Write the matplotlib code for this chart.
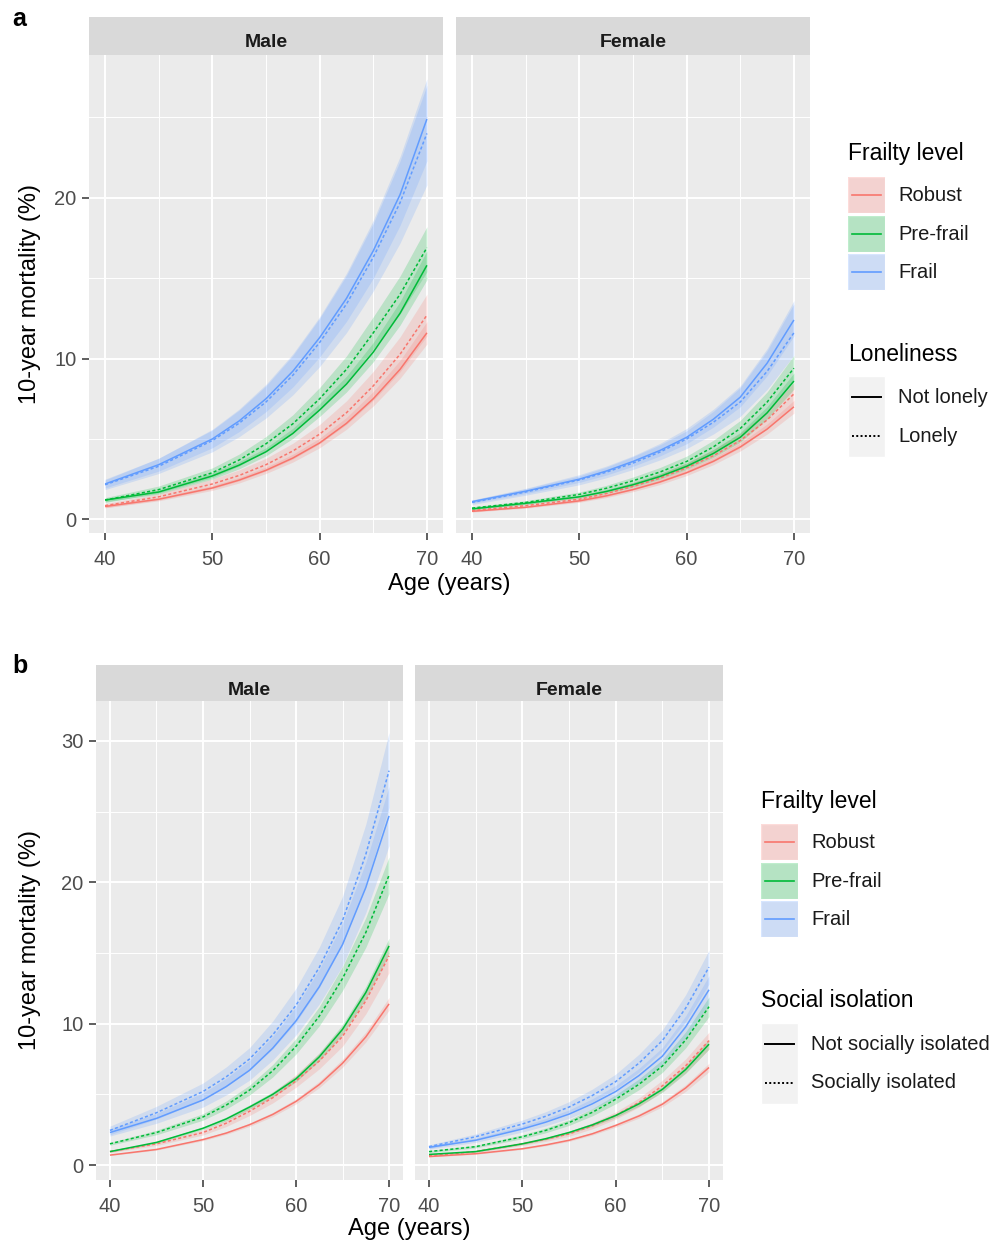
import matplotlib
matplotlib.use("Agg")
import matplotlib.pyplot as plt
from matplotlib.patches import Rectangle
from matplotlib.ticker import MultipleLocator

plt.rcParams['font.family'] = ['Liberation Sans', 'DejaVu Sans']

# ---------------- data ----------------
ages = [40, 45, 50, 52.5, 55, 57.5, 60, 62.5, 65, 67.5, 70]
frailty_levels = ["Robust", "Pre-frail", "Frail"]
sexes = ["Male", "Female"]
x_ticks = [40, 50, 60, 70]

# Panel a (loneliness): _0 = Not lonely, _1 = Lonely
a_m_rob_0 = [0.8, 1.25, 1.95, 2.44, 3.05, 3.81, 4.75, 5.97, 7.5, 9.33, 11.6]
a_m_rob_0_lo = [0.72, 1.15, 1.8, 2.26, 2.85, 3.56, 4.45, 5.60, 7.05, 8.77, 10.9]
a_m_rob_0_hi = [0.88, 1.36, 2.1, 2.61, 3.25, 4.05, 5.05, 6.34, 7.95, 9.89, 12.3]
a_m_rob_1 = [0.85, 1.4, 2.2, 2.73, 3.4, 4.25, 5.3, 6.63, 8.3, 10.27, 12.7]
a_m_rob_1_lo = [0.72, 1.2, 1.9, 2.39, 3.0, 3.75, 4.7, 5.90, 7.4, 9.18, 11.4]
a_m_rob_1_hi = [0.98, 1.6, 2.5, 3.08, 3.8, 4.73, 5.9, 7.37, 9.2, 11.35, 14.0]
a_m_pre_0 = [1.2, 1.7, 2.7, 3.37, 4.2, 5.34, 6.8, 8.41, 10.4, 12.82, 15.8]
a_m_pre_0_lo = [1.1, 1.57, 2.5, 3.14, 3.95, 5.03, 6.4, 7.92, 9.8, 12.08, 14.9]
a_m_pre_0_hi = [1.3, 1.83, 2.9, 3.59, 4.45, 5.66, 7.2, 8.90, 11.0, 13.55, 16.7]
a_m_pre_1 = [1.2, 1.85, 2.9, 3.69, 4.7, 5.94, 7.5, 9.33, 11.6, 14.0, 16.9]
a_m_pre_1_lo = [1.05, 1.63, 2.6, 3.32, 4.25, 5.38, 6.8, 8.49, 10.6, 12.78, 15.4]
a_m_pre_1_hi = [1.35, 2.07, 3.2, 4.06, 5.15, 6.50, 8.2, 10.16, 12.6, 15.14, 18.2]
a_m_fr_0 = [2.2, 3.4, 5.0, 6.12, 7.5, 9.21, 11.3, 13.74, 16.7, 20.2, 24.9]
a_m_fr_0_lo = [1.95, 3.0, 4.45, 5.46, 6.7, 8.23, 10.1, 12.31, 15.0, 18.29, 22.3]
a_m_fr_0_hi = [2.45, 3.8, 5.55, 6.79, 8.3, 10.19, 12.5, 15.17, 18.4, 22.29, 27.0]
a_m_fr_1 = [2.15, 3.3, 4.9, 5.98, 7.3, 8.96, 11.0, 13.39, 16.3, 19.7, 24.0]
a_m_fr_1_lo = [1.85, 2.85, 4.2, 5.14, 6.3, 7.74, 9.5, 11.61, 14.2, 17.19, 20.8]
a_m_fr_1_hi = [2.5, 3.8, 5.6, 6.86, 8.4, 10.29, 12.6, 15.31, 18.6, 22.57, 27.4]

a_f_rob_0 = [0.5, 0.75, 1.15, 1.46, 1.85, 2.32, 2.9, 3.61, 4.5, 5.61, 7.0]
a_f_rob_0_lo = [0.45, 0.69, 1.06, 1.35, 1.72, 2.16, 2.72, 3.40, 4.25, 5.30, 6.6]
a_f_rob_0_hi = [0.55, 0.81, 1.24, 1.57, 1.98, 2.47, 3.08, 3.82, 4.75, 5.93, 7.4]
a_f_rob_1 = [0.55, 0.85, 1.25, 1.60, 2.05, 2.56, 3.2, 3.96, 4.9, 6.18, 7.8]
a_f_rob_1_lo = [0.47, 0.74, 1.1, 1.41, 1.82, 2.29, 2.88, 3.58, 4.45, 5.62, 7.1]
a_f_rob_1_hi = [0.63, 0.96, 1.4, 1.79, 2.28, 2.83, 3.52, 4.34, 5.35, 6.74, 8.5]
a_f_pre_0 = [0.65, 1.0, 1.4, 1.73, 2.15, 2.66, 3.3, 4.10, 5.1, 6.62, 8.6]
a_f_pre_0_lo = [0.6, 0.93, 1.3, 1.61, 2.0, 2.49, 3.1, 3.86, 4.8, 6.24, 8.1]
a_f_pre_0_hi = [0.7, 1.07, 1.5, 1.86, 2.3, 2.84, 3.5, 4.35, 5.4, 7.01, 9.1]
a_f_pre_1 = [0.7, 1.05, 1.55, 1.93, 2.4, 2.94, 3.6, 4.51, 5.65, 7.29, 9.4]
a_f_pre_1_lo = [0.62, 0.94, 1.4, 1.74, 2.17, 2.66, 3.27, 4.10, 5.15, 6.66, 8.6]
a_f_pre_1_hi = [0.78, 1.16, 1.7, 2.11, 2.63, 3.22, 3.93, 4.92, 6.15, 7.92, 10.2]
a_f_fr_0 = [1.1, 1.75, 2.5, 3.0, 3.6, 4.28, 5.1, 6.23, 7.6, 9.71, 12.4]
a_f_fr_0_lo = [1.0, 1.6, 2.3, 2.75, 3.3, 3.94, 4.7, 5.74, 7.0, 8.93, 11.4]
a_f_fr_0_hi = [1.2, 1.9, 2.7, 3.24, 3.9, 4.63, 5.5, 6.72, 8.2, 10.48, 13.4]
a_f_fr_1 = [1.05, 1.7, 2.45, 2.93, 3.5, 4.18, 5.0, 6.04, 7.3, 9.20, 11.6]
a_f_fr_1_lo = [0.92, 1.5, 2.15, 2.58, 3.1, 3.69, 4.4, 5.31, 6.4, 8.08, 10.2]
a_f_fr_1_hi = [1.2, 1.93, 2.78, 3.31, 3.95, 4.72, 5.65, 6.85, 8.3, 10.62, 13.6]

# Panel b (social isolation): _0 = Not socially isolated, _1 = Socially isolated
b_m_rob_0 = [0.7, 1.1, 1.8, 2.26, 2.85, 3.58, 4.5, 5.69, 7.2, 9.06, 11.4]
b_m_rob_0_lo = [0.67, 1.05, 1.72, 2.17, 2.73, 3.43, 4.32, 5.47, 6.92, 8.70, 10.95]
b_m_rob_0_hi = [0.73, 1.15, 1.88, 2.36, 2.97, 3.73, 4.68, 5.92, 7.48, 9.41, 11.85]
b_m_rob_1 = [0.95, 1.5, 2.3, 2.96, 3.8, 4.76, 5.95, 7.36, 9.1, 11.61, 14.8]
b_m_rob_1_lo = [0.87, 1.38, 2.12, 2.72, 3.5, 4.39, 5.5, 6.80, 8.4, 10.69, 13.6]
b_m_rob_1_hi = [1.03, 1.62, 2.48, 3.19, 4.1, 5.12, 6.4, 7.92, 9.8, 12.44, 15.8]
b_m_pre_0 = [0.95, 1.6, 2.6, 3.26, 4.1, 5.0, 6.1, 7.65, 9.6, 12.20, 15.5]
b_m_pre_0_lo = [0.91, 1.54, 2.5, 3.14, 3.95, 4.82, 5.88, 7.38, 9.26, 11.77, 14.95]
b_m_pre_0_hi = [0.99, 1.66, 2.7, 3.39, 4.25, 5.18, 6.32, 7.93, 9.94, 12.63, 16.05]
b_m_pre_1 = [1.5, 2.3, 3.4, 4.24, 5.3, 6.67, 8.4, 10.53, 13.2, 16.45, 20.5]
b_m_pre_1_lo = [1.4, 2.14, 3.17, 3.96, 4.95, 6.23, 7.85, 9.85, 12.35, 15.40, 19.2]
b_m_pre_1_hi = [1.6, 2.46, 3.63, 4.53, 5.65, 7.11, 8.95, 11.21, 14.05, 17.50, 21.8]
b_m_fr_0 = [2.3, 3.3, 4.6, 5.55, 6.7, 8.27, 10.2, 12.61, 15.6, 19.63, 24.7]
b_m_fr_0_lo = [2.05, 2.95, 4.1, 4.96, 6.0, 7.43, 9.2, 11.39, 14.1, 17.85, 22.6]
b_m_fr_0_hi = [2.55, 3.65, 5.1, 6.14, 7.4, 9.10, 11.2, 13.84, 17.1, 21.41, 26.8]
b_m_fr_1 = [2.45, 3.7, 5.2, 6.24, 7.5, 9.21, 11.3, 13.98, 17.3, 21.97, 27.9]
b_m_fr_1_lo = [2.15, 3.25, 4.6, 5.55, 6.7, 8.23, 10.1, 12.55, 15.6, 19.87, 25.3]
b_m_fr_1_hi = [2.75, 4.15, 5.8, 6.94, 8.3, 10.19, 12.5, 15.41, 19.0, 24.11, 30.6]

b_f_rob_0 = [0.6, 0.8, 1.15, 1.42, 1.75, 2.21, 2.8, 3.47, 4.3, 5.45, 6.9]
b_f_rob_0_lo = [0.57, 0.76, 1.1, 1.36, 1.67, 2.12, 2.68, 3.32, 4.12, 5.21, 6.6]
b_f_rob_0_hi = [0.63, 0.84, 1.2, 1.48, 1.83, 2.31, 2.92, 3.62, 4.48, 5.68, 7.2]
b_f_rob_1 = [0.65, 0.95, 1.5, 1.82, 2.2, 2.77, 3.5, 4.43, 5.6, 7.02, 8.8]
b_f_rob_1_lo = [0.6, 0.88, 1.38, 1.67, 2.03, 2.56, 3.24, 4.10, 5.2, 6.53, 8.2]
b_f_rob_1_hi = [0.7, 1.02, 1.62, 1.96, 2.37, 2.99, 3.76, 4.75, 6.0, 7.51, 9.4]
b_f_pre_0 = [0.75, 0.95, 1.5, 1.86, 2.3, 2.84, 3.5, 4.33, 5.35, 6.76, 8.55]
b_f_pre_0_lo = [0.72, 0.91, 1.44, 1.78, 2.21, 2.73, 3.36, 4.16, 5.14, 6.49, 8.2]
b_f_pre_0_hi = [0.78, 0.99, 1.56, 1.93, 2.39, 2.95, 3.64, 4.50, 5.56, 7.03, 8.9]
b_f_pre_1 = [0.95, 1.3, 2.0, 2.45, 3.0, 3.73, 4.65, 5.71, 7.0, 8.85, 11.2]
b_f_pre_1_lo = [0.88, 1.21, 1.86, 2.28, 2.8, 3.48, 4.33, 5.33, 6.55, 8.29, 10.5]
b_f_pre_1_hi = [1.02, 1.39, 2.14, 2.62, 3.2, 3.99, 4.97, 6.09, 7.45, 9.42, 11.9]
b_f_fr_0 = [1.25, 1.75, 2.55, 3.03, 3.6, 4.33, 5.2, 6.33, 7.7, 9.77, 12.4]
b_f_fr_0_lo = [1.13, 1.6, 2.33, 2.77, 3.3, 3.97, 4.77, 5.82, 7.1, 9.0, 11.4]
b_f_fr_0_hi = [1.37, 1.9, 2.77, 3.29, 3.9, 4.69, 5.63, 6.84, 8.3, 10.55, 13.4]
b_f_fr_1 = [1.3, 2.0, 2.9, 3.45, 4.1, 4.92, 5.9, 7.21, 8.8, 11.10, 14.0]
b_f_fr_1_lo = [1.17, 1.8, 2.62, 3.12, 3.72, 4.47, 5.37, 6.57, 8.05, 10.15, 12.8]
b_f_fr_1_hi = [1.43, 2.2, 3.18, 3.77, 4.48, 5.37, 6.43, 7.84, 9.55, 12.05, 15.2]

# ---------------- style ----------------
colors = ["#F8766D", "#00BA38", "#619CFF"]
panel_bg = "#EBEBEB"
strip_bg = "#D9D9D9"
tick_col = "#4D4D4D"
W, H = 989, 1243

fig = plt.figure(figsize=(W / 100, H / 100), dpi=100)


def add_ax(x0, y0, x1, y1):
    return fig.add_axes([x0 / W, 1 - y1 / H, (x1 - x0) / W, (y1 - y0) / H])


def series(g):
    s = globals()
    out = []
    for key in ["rob", "pre", "fr"]:
        grp = []
        for k in ("0", "1"):
            nm = f"{g}_{key}_{k}"
            grp.append((s[nm], s[nm + "_lo"], s[nm + "_hi"]))
        out.append(grp)
    return out


def draw_facet(ax, g, ylim, yticks, show_y):
    ax.set_facecolor(panel_bg)
    for sp in ax.spines.values():
        sp.set_visible(False)
    ax.set_xlim(38.5, 71.5)
    ax.set_ylim(*ylim)
    ax.set_xticks(x_ticks)
    ax.xaxis.set_minor_locator(MultipleLocator(5))
    ax.set_yticks(yticks)
    ax.yaxis.set_minor_locator(MultipleLocator(5))
    ax.grid(which="major", color="white", lw=1.4)
    ax.grid(which="minor", color="white", lw=0.7)
    ax.set_axisbelow(True)
    ax.tick_params(which="major", length=5, width=1.1, color="#333333",
                   labelcolor=tick_col, labelsize=14.5)
    ax.tick_params(axis="x", which="major", pad=7)
    ax.tick_params(axis="y", which="major", pad=4)
    ax.tick_params(which="minor", length=0)
    if not show_y:
        ax.tick_params(axis="y", which="both", length=0, labelleft=False)
    data = series(g)
    for ci, grp in enumerate(data):
        for mean, lo, hi in grp:
            ax.fill_between(ages, lo, hi, color=colors[ci], alpha=0.2, lw=0)
    for ci, grp in enumerate(data):
        for li, (mean, lo, hi) in enumerate(grp):
            ls = "-" if li == 0 else (0, (2, 1.5))
            ax.plot(ages, mean, color=colors[ci], lw=1.1, ls=ls,
                    solid_capstyle="butt", solid_joinstyle="round")


def strip(x0, y0, x1, y1, label, baseline_y):
    s = add_ax(x0, y0, x1, y1)
    s.set_facecolor(strip_bg)
    s.set_xticks([]); s.set_yticks([])
    for sp in s.spines.values():
        sp.set_visible(False)
    s.text(0.5, (y1 - baseline_y) / (y1 - y0), label, ha="center",
           va="baseline", fontsize=14, color="#1A1A1A", fontweight="bold",
           transform=s.transAxes)


# Panel a
a_ylim = (-0.85, 28.88)
ax = add_ax(89, 55, 443, 533); draw_facet(ax, "a_m", a_ylim, [0, 10, 20], True)
ax = add_ax(456, 55, 810, 533); draw_facet(ax, "a_f", a_ylim, [0, 10, 20], False)
strip(89, 17, 443, 55, "Male", 47)
strip(456, 17, 810, 55, "Female", 47)

# Panel b
b_ylim = (-1.06, 32.83)
ax = add_ax(96, 701, 403, 1180); draw_facet(ax, "b_m", b_ylim, [0, 10, 20, 30], True)
ax = add_ax(415, 701, 723, 1180); draw_facet(ax, "b_f", b_ylim, [0, 10, 20, 30], False)
strip(96, 665, 403, 701, "Male", 695)
strip(415, 665, 723, 701, "Female", 695)

# overlay for titles and legends
ov = fig.add_axes([0, 0, 1, 1])
ov.set_xlim(0, W); ov.set_ylim(H, 0)
ov.axis("off")
ov.patch.set_visible(False)

ov.text(12, 19, "a", fontsize=18, fontweight="bold", ha="left", va="center")
ov.text(12, 666, "b", fontsize=18, fontweight="bold", ha="left", va="center")

ov.text(30, 294, "10-year mortality (%)", rotation=90, fontsize=17,
        ha="center", va="center")
ov.text(30, 940, "10-year mortality (%)", rotation=90, fontsize=17,
        ha="center", va="center")
ov.text(449, 584, "Age (years)", fontsize=17, ha="center", va="center")
ov.text(409, 1229, "Age (years)", fontsize=17, ha="center", va="center")


def legend(x, title_y, rows_y, title2, title2_y, rows2_y, labels2):
    kw = 37
    ov.text(x, title_y, "Frailty level", fontsize=16.5, ha="left", va="center")
    for i, lab in enumerate(frailty_levels):
        cy = rows_y[i]
        ov.add_patch(Rectangle((x, cy - 18), kw, 36, facecolor="#F2F2F2",
                               edgecolor="white", lw=1))
        ov.add_patch(Rectangle((x, cy - 18), kw, 36, facecolor=colors[i],
                               alpha=0.25, lw=0))
        ov.plot([x + 4, x + kw - 4], [cy, cy], color=colors[i], lw=1.2)
        ov.text(x + 50, cy, lab, fontsize=14.5, ha="left", va="center",
                color="#1A1A1A")
    ov.text(x, title2_y, title2, fontsize=16.5, ha="left", va="center")
    ov.add_patch(Rectangle((x, rows2_y[0] - 21), kw, rows2_y[1] - rows2_y[0] + 42,
                           facecolor="#F2F2F2", edgecolor="white", lw=1))
    for i, lab in enumerate(labels2):
        cy = rows2_y[i]
        ls = "-" if i == 0 else (0, (1, 1.2))
        ov.plot([x + 4, x + kw - 4], [cy, cy], color="black", lw=1.4, ls=ls)
        ov.text(x + 50, cy, lab, fontsize=14.5, ha="left", va="center",
                color="#1A1A1A")


legend(848, 153, [195, 234, 272], "Loneliness", 354, [397, 436],
       ["Not lonely", "Lonely"])
legend(761, 801, [842, 881, 919], "Social isolation", 1000, [1044, 1083],
       ["Not socially isolated", "Socially isolated"])

fig.savefig("out.png", dpi=100)
